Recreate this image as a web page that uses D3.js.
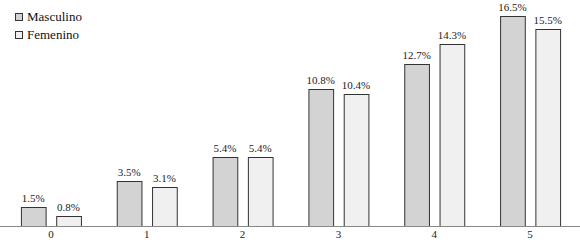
<!DOCTYPE html>
<html>
<head>
<meta charset="utf-8">
<script src="https://cdn.jsdelivr.net/npm/d3@7"></script>
<style>
  body { margin: 0; background: #fff; }
</style>
</head>
<body>
<svg id="chart" width="580" height="242"></svg>
<script>
// categorías y series
const categorias = ["0", "1", "2", "3", "4", "5"];
const series = ["Masculino", "Femenino"];
const masculino = [1.5, 3.5, 5.4, 10.8, 12.7, 16.5];
const femenino = [0.8, 3.1, 5.4, 10.4, 14.3, 15.5];
const colores = ["#d3d3d3", "#f0f0f0"];

const fuente = "Liberation Serif";
const svg = d3.select("#chart");

const x = d3.scaleBand()
    .domain(categorias)
    .range([3, 578]);

const xInner = d3.scaleBand()
    .domain(series)
    .range([x.bandwidth() / 2 - 30, x.bandwidth() / 2 + 30])
    .paddingInner(0.3);

const y = d3.scaleLinear()
    .domain([0, 16.5])
    .range([226, 16]);

const datos = categorias.map((c, i) => ({
    cat: c,
    valores: [
        { serie: "Masculino", v: masculino[i], color: colores[0] },
        { serie: "Femenino", v: femenino[i], color: colores[1] }
    ]
}));

const grupos = svg.selectAll(".grupo")
    .data(datos)
    .enter()
    .append("g")
    .attr("class", "grupo")
    .attr("transform", d => `translate(${x(d.cat)},0)`);

grupos.selectAll("rect")
    .data(d => d.valores)
    .enter()
    .append("rect")
    .attr("x", d => xInner(d.serie) + 0.5)
    .attr("y", d => Math.round(y(d.v)) + 0.5)
    .attr("width", xInner.bandwidth())
    .attr("height", d => 226 - Math.round(y(d.v)))
    .attr("fill", d => d.color)
    .attr("stroke", "#333")
    .attr("stroke-width", 1);

// texto pequeño: se dibuja al doble y se escala a la mitad
grupos.selectAll(".etiqueta")
    .data(d => d.valores)
    .enter()
    .append("text")
    .attr("class", "etiqueta")
    .attr("transform", d => `translate(${xInner(d.serie) + xInner.bandwidth() / 2},${y(d.v) - 5}) scale(0.5)`)
    .attr("text-anchor", "middle")
    .attr("font-size", 22)
    .attr("font-family", fuente)
    .attr("fill", "#222")
    .text(d => d.v.toFixed(1) + "%");

// eje x
const eje = svg.append("g")
    .attr("transform", "translate(0,226.5)")
    .call(d3.axisBottom(x).tickSize(0).tickPadding(4));
eje.attr("font-family", fuente);
eje.select(".domain").attr("stroke", "#888").attr("d", "M0,0H580");
eje.selectAll("text")
    .attr("font-size", 22)
    .attr("font-family", fuente)
    .attr("y", 8)
    .attr("transform", "scale(0.5)")
    .attr("fill", "#222");

// leyenda
const leyenda = svg.append("g");
series.forEach((s, i) => {
    leyenda.append("rect")
        .attr("x", 15.5)
        .attr("y", 13.5 + i * 18)
        .attr("width", 7)
        .attr("height", 7)
        .attr("fill", colores[i])
        .attr("stroke", "#333");
    leyenda.append("text")
        .attr("transform", `translate(27,${21 + i * 18}) scale(0.5)`)
        .attr("font-size", 26)
        .attr("font-family", fuente)
        .attr("fill", "#111")
        .text(s);
});
</script>
</body>
</html>
